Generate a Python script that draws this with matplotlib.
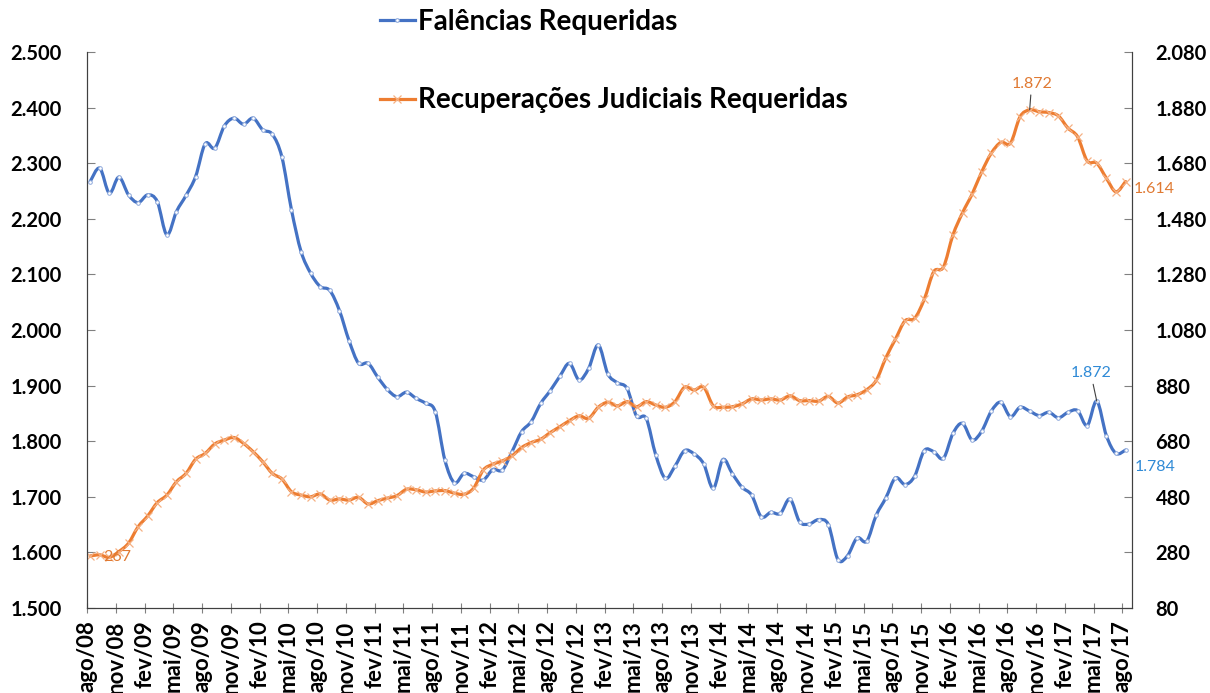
import matplotlib.pyplot as plt
import numpy as np
from matplotlib.path import Path
from matplotlib.patches import PathPatch
from matplotlib.lines import Line2D

plt.rcParams['font.family'] = ['Lato', 'DejaVu Sans']

# rótulos do eixo x (trimestrais)
meses = ['ago/08', 'nov/08', 'fev/09', 'mai/09', 'ago/09', 'nov/09', 'fev/10', 'mai/10',
         'ago/10', 'nov/10', 'fev/11', 'mai/11', 'ago/11', 'nov/11', 'fev/12', 'mai/12',
         'ago/12', 'nov/12', 'fev/13', 'mai/13', 'ago/13', 'nov/13', 'fev/14', 'mai/14',
         'ago/14', 'nov/14', 'fev/15', 'mai/15', 'ago/15', 'nov/15', 'fev/16', 'mai/16',
         'ago/16', 'nov/16', 'fev/17', 'mai/17', 'ago/17']

# séries mensais ago/08 .. ago/17
falencias = [2267, 2291, 2246, 2275, 2243, 2229, 2243, 2231, 2171, 2213, 2242, 2276,
             2335, 2327, 2367, 2381, 2370, 2381, 2360, 2352, 2311, 2216, 2141, 2102,
             2078, 2071, 2035, 1981, 1940, 1940, 1915, 1893, 1880, 1888, 1877, 1868,
             1853, 1766, 1725, 1742, 1736, 1730, 1749, 1748, 1781, 1817, 1835, 1868,
             1891, 1917, 1940, 1910, 1931, 1973, 1921, 1905, 1895, 1845, 1841, 1775,
             1733, 1755, 1783, 1777, 1759, 1715, 1767, 1741, 1717, 1703, 1664, 1672,
             1670, 1696, 1655, 1651, 1659, 1650, 1587, 1594, 1626, 1620, 1667, 1698,
             1734, 1722, 1737, 1783, 1781, 1769, 1814, 1832, 1802, 1818, 1854, 1870,
             1844, 1861, 1854, 1846, 1852, 1842, 1852, 1855, 1828, 1872, 1810, 1778,
             1784]

recuperacoes = [267, 271, 262, 283, 313, 372, 411, 459, 486, 534, 564, 615,
                636, 670, 684, 693, 672, 642, 606, 564, 544, 498, 486, 480,
                490, 468, 472, 468, 478, 454, 466, 475, 484, 507, 505, 497,
                501, 502, 493, 489, 511, 576, 597, 609, 627, 657, 675, 687,
                711, 732, 754, 771, 762, 802, 820, 807, 822, 804, 822, 810,
                802, 822, 874, 864, 874, 807, 802, 804, 814, 832, 828, 832,
                828, 843, 826, 826, 824, 841, 817, 839, 847, 865, 899, 980,
                1047, 1113, 1122, 1190, 1290, 1306, 1422, 1502, 1569, 1649, 1716, 1755,
                1752, 1847, 1872, 1865, 1862, 1850, 1806, 1775, 1688, 1680, 1626, 1577,
                1614]

azul = '#4472C4'
laranja = '#ED7D31'
azul_rot = '#2F8AD6'
laranja_rot = '#E07A33'


def milhar(v):
    return f"{v:,.0f}".replace(",", ".")


def curva_suave(x, y):
    # bezier no estilo da linha suavizada do Excel
    pts = np.column_stack([x, y]).astype(float)
    n = len(pts)
    verts = [pts[0]]
    codes = [Path.MOVETO]
    for i in range(n - 1):
        p0 = pts[max(i - 1, 0)]
        p1 = pts[i]
        p2 = pts[i + 1]
        p3 = pts[min(i + 2, n - 1)]
        verts += [p1 + (p2 - p0) / 6, p2 - (p3 - p1) / 6, p2]
        codes += [Path.CURVE4] * 3
    return Path(verts, codes)


x = np.arange(len(falencias)) + 0.33

fig = plt.figure(figsize=(12.1, 6.93), dpi=100)
ax = fig.add_axes([0.0719, 0.1227, 0.8636, 0.8023])
ax2 = ax.twinx()

ax.add_patch(PathPatch(curva_suave(x, falencias), fill=False, edgecolor=azul, lw=2.3,
                       capstyle='round', joinstyle='round'))
ax.plot(x, falencias, ls='none', marker='o', ms=2.6, mfc='white', mec='#8EA9DB', mew=0.7)

ax2.add_patch(PathPatch(curva_suave(x, recuperacoes), fill=False, edgecolor=laranja, lw=2.3,
                        capstyle='round', joinstyle='round'))
ax2.plot(x, recuperacoes, ls='none', marker='x', ms=6, color='#F5B184', mew=0.9)

ax.set_xlim(0, 109)
ax.set_xticks(np.arange(0, 109, 3))
ax.set_xticklabels(meses, rotation=90, fontweight='bold', fontsize=16)
ax.tick_params(axis='x', direction='inout', length=7, color='#808080', pad=5.5)

yt = list(range(1500, 2501, 100))
ax.set_ylim(1500, 2500)
ax.set_yticks(yt, labels=[milhar(v) for v in yt], fontweight='bold', fontsize=14.5)
ax.tick_params(axis='y', direction='in', length=5.5, color='#808080', pad=18)

yt2 = list(range(80, 2081, 200))
ax2.set_ylim(80, 2080)
ax2.set_yticks(yt2, labels=[milhar(v) for v in yt2], fontweight='bold', fontsize=14.5)
ax2.tick_params(axis='y', direction='in', length=5.5, color='#808080', pad=17)

for a in (ax, ax2):
    a.spines['top'].set_visible(False)
    for s in ('left', 'right', 'bottom'):
        a.spines[s].set_color('#404040')

# rótulos de dados
ax2.annotate(milhar(recuperacoes[0]), xy=(x[0], recuperacoes[0]), xytext=(13, -1),
             textcoords='offset pixels', ha='left', va='center', color=laranja_rot, fontsize=11.5)
ax2.annotate(milhar(recuperacoes[98]), xy=(x[98], recuperacoes[98]), xytext=(2, 26),
             textcoords='offset pixels', ha='center', va='center', color=laranja_rot, fontsize=11.5,
             arrowprops=dict(arrowstyle='-', color='#404040', lw=0.8, shrinkA=1, shrinkB=0))
ax2.annotate(milhar(recuperacoes[-1]), xy=(x[-1], recuperacoes[-1]), xytext=(8, -7),
             textcoords='offset pixels', ha='left', va='center', color=laranja_rot, fontsize=11.5)
ax.annotate(milhar(falencias[105]), xy=(x[105], falencias[105]), xytext=(-6, 28),
            textcoords='offset pixels', ha='center', va='center', color=azul_rot, fontsize=11.5,
            arrowprops=dict(arrowstyle='-', color='#404040', lw=0.8, shrinkA=1, shrinkB=0))
ax.annotate(milhar(falencias[-1]), xy=(x[-1], falencias[-1]), xytext=(9, -17),
            textcoords='offset pixels', ha='left', va='center', color=azul_rot, fontsize=11.5)

handles = [Line2D([], [], color=azul, lw=2.3, marker='o', ms=2.6, mfc='white', mec='#8EA9DB', mew=0.7),
           Line2D([], [], color=laranja, lw=2.3, marker='x', ms=6, mec='#F5B184', mew=0.9)]
fig.legend(handles, ['Falências Requeridas', 'Recuperações Judiciais Requeridas'],
           loc='upper left', bbox_to_anchor=(0.314, 0.987), frameon=False,
           prop={'weight': 'bold', 'size': 20}, handlelength=1.26, handletextpad=0.11,
           labelspacing=1.88, borderpad=0, borderaxespad=0)

fig.savefig('out.png', dpi=100)
